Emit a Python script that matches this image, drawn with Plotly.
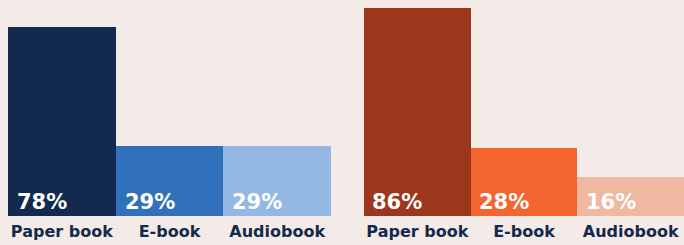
import plotly.graph_objects as go

categories = ["Paper book", "E-book", "Audiobook"]
left_values = [78, 29, 29]
right_values = [86, 28, 16]
left_colors = ["#122a4f", "#3171bb", "#94b8e4"]
right_colors = ["#9c361d", "#f3642e", "#efb9a1"]
label_texts_left = [f"{v}%" for v in left_values]
label_texts_right = [f"{v}%" for v in right_values]

BG = "#f4eae7"
NAVY = "#142a4c"
FONT = "DejaVu Sans"

fig = go.Figure()
fig.add_trace(go.Bar(x=categories, y=left_values, marker=dict(color=left_colors, line=dict(width=0)),
                     xaxis="x", yaxis="y", hoverinfo="skip"))
fig.add_trace(go.Bar(x=categories, y=right_values, marker=dict(color=right_colors, line=dict(width=0)),
                     xaxis="x2", yaxis="y2", hoverinfo="skip"))

annotations = []
for xa, vals, texts in (("x", left_values, label_texts_left), ("x2", right_values, label_texts_right)):
    ya = "y" if xa == "x" else "y2"
    for c, t in zip(categories, texts):
        annotations.append(dict(x=c, y=0, xref=xa, yref=ya, text=t, showarrow=False,
                                xanchor="left", yanchor="bottom", xshift=-47, yshift=0,
                                font=dict(family=FONT, size=21, color="white", weight="bold")))

ymax = 89.3
tickfont = dict(family=FONT, size=16, color=NAVY, weight="bold")
fig.update_layout(
    width=684, height=245,
    margin=dict(l=0, r=0, t=0, b=29),
    paper_bgcolor=BG, plot_bgcolor=BG,
    showlegend=False, bargap=0,
    annotations=annotations,
    xaxis=dict(domain=[8/684, 331/684], showgrid=False, zeroline=False, showline=False,
               tickfont=tickfont, ticks="", fixedrange=True, ticklabelstandoff=4),
    xaxis2=dict(domain=[364/684, 1], showgrid=False, zeroline=False, showline=False,
                tickfont=tickfont, ticks="", anchor="y2", fixedrange=True, ticklabelstandoff=4),
    yaxis=dict(range=[0, ymax], visible=False, showgrid=False, zeroline=False),
    yaxis2=dict(range=[0, ymax], visible=False, showgrid=False, zeroline=False, anchor="x2"),
)

fig.write_html("out.html", config={"displayModeBar": False},
               post_script="document.body.style.margin='0';document.body.style.background='%s';" % BG)
